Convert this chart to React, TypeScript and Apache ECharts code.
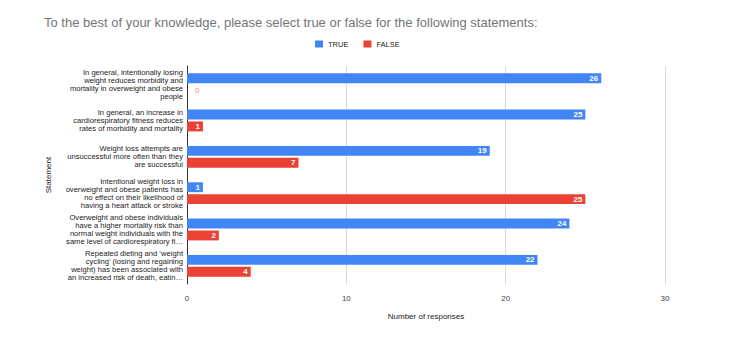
import React, { useEffect, useRef } from "react";
import * as echarts from "echarts";

const categories = [
  "In general, intentionally losing\nweight reduces morbidity and\nmortality in overweight and obese\npeople",
  "In general, an increase in\ncardiorespiratory fitness reduces\nrates of morbidity and mortality",
  "Weight loss attempts are\nunsuccessful more often than they\nare successful",
  "Intentional weight loss in\noverweight and obese patients has\nno effect on their likelihood of\nhaving a heart attack or stroke",
  "Overweight and obese individuals\nhave a higher mortality risk than\nnormal weight individuals with the\nsame level of cardiorespiratory fi…",
  "Repeated dieting and \u2018weight\ncycling\u2019 (losing and regaining\nweight) has been associated with\nan increased risk of death, eatin…",
];
const trueValues = [26, 25, 19, 1, 24, 22];
const falseValues = [0, 1, 7, 25, 2, 4];
const xTicks = [0, 10, 20, 30];

const FONT = "Arial, 'Liberation Sans', sans-serif";

export default function App() {
  const ref = useRef<HTMLDivElement>(null);
  useEffect(() => {
    if (!ref.current) return;
    const chart = echarts.init(ref.current, undefined, { renderer: "svg" });
    const mk = (vals: number[], zeroColor: string) =>
      vals.map((v) =>
        v === 0
          ? { value: v, label: { position: "right", distance: 8, color: zeroColor, fontWeight: "normal" } }
          : v
      );
    const barLabel = {
      show: true,
      position: "insideRight",
      color: "#fff",
      fontSize: 8,
      fontWeight: "bold",
      distance: 3,
      fontFamily: FONT,
    };
    chart.setOption({
      animation: false,
      textStyle: { fontFamily: FONT },
      title: {
        text: "To the best of your knowledge, please select true or false for the following statements:",
        left: 39,
        top: 11,
        textStyle: { fontSize: 13, fontWeight: "normal", color: "#757575", fontFamily: FONT },
      },
      legend: {
        top: 35,
        left: 310,
        itemWidth: 8,
        itemHeight: 7,
        itemGap: 15,
        icon: "rect",
        textStyle: { fontSize: 7.5, color: "#222", fontFamily: FONT },
        data: ["TRUE", "FALSE"],
      },
      grid: { left: 187, right: 85, top: 66, bottom: 63, containLabel: false },
      xAxis: {
        type: "value",
        min: xTicks[0],
        max: xTicks[xTicks.length - 1],
        interval: 10,
        name: "Number of responses",
        nameLocation: "middle",
        nameGap: 28,
        nameTextStyle: { fontSize: 8, color: "#222", fontFamily: FONT },
        axisLabel: { fontSize: 8, color: "#444", margin: 10, fontFamily: FONT },
        splitLine: { show: true, lineStyle: { color: "#d9d9d9" } },
        axisLine: { show: false },
        axisTick: { show: false },
      },
      yAxis: {
        type: "category",
        inverse: true,
        data: categories,
        name: "Statement",
        nameLocation: "middle",
        nameGap: 135,
        nameRotate: 90,
        nameTextStyle: { fontSize: 8, color: "#222", fontFamily: FONT },
        axisLabel: {
          fontSize: 7.6,
          lineHeight: 8,
          color: "#222",
          margin: 4,
          align: "right",
          fontFamily: FONT,
        },
        axisTick: { show: false },
        axisLine: { show: true, lineStyle: { color: "#333", width: 1 } },
      },
      series: [
        {
          name: "TRUE",
          type: "bar",
          data: mk(trueValues, "#8ab4f8"),
          itemStyle: { color: "#4285F4" },
          barCategoryGap: "40%",
          barGap: "20%",
          label: barLabel,
        },
        {
          name: "FALSE",
          type: "bar",
          data: mk(falseValues, "#f28b82"),
          itemStyle: { color: "#EA4335" },
          barCategoryGap: "40%",
          barGap: "20%",
          label: barLabel,
        },
      ],
    });
    return () => chart.dispose();
  }, []);
  return <div ref={ref} style={{ width: 750, height: 347, margin: -8 }} />;
}
